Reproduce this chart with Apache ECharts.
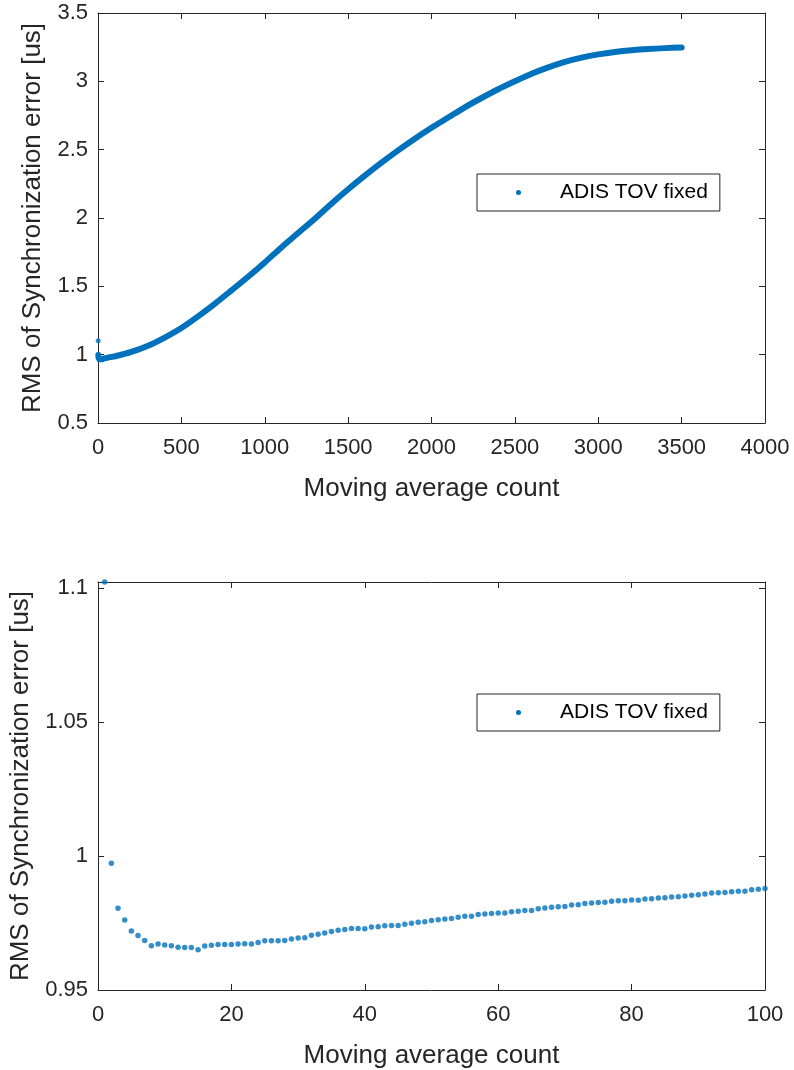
<!DOCTYPE html>
<html>
<head>
<meta charset="utf-8">
<script src="https://cdn.jsdelivr.net/npm/echarts@6/dist/echarts.min.js"></script>
<style>
html,body{margin:0;padding:0;background:#fff;}
#chart{width:794px;height:1070px;}
</style>
</head>
<body>
<div id="chart"></div>
<script>
// ---- Data ----
const seriesName = 'ADIS TOV fixed';
const xTitle = 'Moving average count';
const yTitle = 'RMS of Synchronization error [us]';

// Fine detail: moving average count 1..100 (bottom panel, also start of top panel)
const countFine = [1,2,3,4,5,6,7,8,9,10,11,12,13,14,15,16,17,18,19,20,21,22,23,24,25,26,27,28,29,30,31,32,33,34,35,36,37,38,39,40,41,42,43,44,45,46,47,48,49,50,51,52,53,54,55,56,57,58,59,60,61,62,63,64,65,66,67,68,69,70,71,72,73,74,75,76,77,78,79,80,81,82,83,84,85,86,87,88,89,90,91,92,93,94,95,96,97,98,99,100];
const rmsFine = [1.1023,0.9973,0.9805,0.9761,0.9720,0.9703,0.9685,0.9665,0.9672,0.9668,
0.9665,0.9660,0.9659,0.9659,0.9650,0.9664,0.9667,0.9670,0.9670,0.9670,
0.9672,0.9673,0.9672,0.9677,0.9684,0.9684,0.9684,0.9685,0.9690,0.9694,
0.9695,0.9704,0.9708,0.9713,0.9718,0.9723,0.9726,0.9730,0.9730,0.9729,
0.9735,0.9736,0.9740,0.9741,0.9741,0.9745,0.9749,0.9753,0.9755,0.9759,
0.9762,0.9765,0.9767,0.9772,0.9775,0.9775,0.9782,0.9784,0.9786,0.9787,
0.9787,0.9792,0.9794,0.9797,0.9797,0.9803,0.9806,0.9809,0.9811,0.9812,
0.9817,0.9818,0.9823,0.9825,0.9827,0.9828,0.9831,0.9833,0.9833,0.9836,
0.9835,0.9840,0.9841,0.9843,0.9844,0.9847,0.9848,0.9851,0.9854,0.9856,
0.9858,0.9862,0.9863,0.9864,0.9867,0.9869,0.9869,0.9874,0.9876,0.9879];

// Coarse: moving average count 150..3500 (top panel)
const countCoarse = [150,200,300,400,500,600,700,800,900,1000,1100,1200,1300,1400,1500,1600,1700,1800,1900,2000,2100,2200,2300,2400,2500,2600,2700,2800,2900,3000,3100,3200,3300,3400,3500];
const rmsCoarse = [1.003,1.020,1.065,1.125,1.195,1.280,1.372,1.470,1.570,1.675,1.785,1.890,1.995,2.105,2.210,2.310,2.405,2.495,2.580,2.660,2.735,2.810,2.878,2.942,3.000,3.055,3.102,3.142,3.173,3.197,3.215,3.228,3.237,3.243,3.247];

// Axis ticks
const topXTicks = {min:0, max:4000, interval:500};
const topYTicks = {min:0.5, max:3.5, interval:0.5};
const botXTicks = {min:0, max:100, interval:20};
const botYTicks = {min:0.95, max:1.1023, interval:0.05};

// ---- Build ----
const BLUE = '#0072BD';
const AX = '#262626';
const FONT = '"Liberation Sans", Arial, Helvetica, sans-serif';

const finePts = countFine.map((c,i)=>[c, rmsFine[i]]);
const bandPts = finePts.slice(1).concat(countCoarse.map((c,i)=>[c, rmsCoarse[i]]));

function tickFmt(t){
  return function(v){ const k=(v - t.min)/t.interval; return Math.abs(k-Math.round(k))<1e-6 ? String(+v.toFixed(4)) : ''; };
}
function mainX(grid, t){
  return {type:'value', gridIndex:grid, min:t.min, max:t.max, interval:t.interval, position:'bottom',
    name:xTitle, nameLocation:'middle', nameGap:53,
    nameTextStyle:{fontFamily:FONT, fontSize:26, color:AX},
    axisLine:{show:true, onZero:false, lineStyle:{color:AX, width:1}},
    axisTick:{show:true, inside:true, length:6, lineStyle:{color:AX}},
    axisLabel:{fontFamily:FONT, fontSize:22, color:AX, margin:14, formatter:tickFmt(t)},
    splitLine:{show:false}};
}
function mirrorX(grid, t){
  return {type:'value', gridIndex:grid, min:t.min, max:t.max, interval:t.interval, position:'top',
    axisLine:{show:true, onZero:false, lineStyle:{color:AX, width:1}},
    axisTick:{show:true, inside:true, length:6, lineStyle:{color:AX}},
    axisLabel:{show:false}, splitLine:{show:false}};
}
function mainY(grid, t){
  return {type:'value', gridIndex:grid, min:t.min, max:t.max, interval:t.interval, position:'left',
    name:yTitle, nameLocation:'middle', nameGap:52,
    nameTextStyle:{fontFamily:FONT, fontSize:26, color:AX},
    axisLine:{show:true, onZero:false, lineStyle:{color:AX, width:1}},
    axisTick:{show:true, inside:true, length:6, lineStyle:{color:AX}},
    axisLabel:{fontFamily:FONT, fontSize:22, color:AX, margin:10, formatter:tickFmt(t)},
    splitLine:{show:false}};
}
function mirrorY(grid, t){
  return {type:'value', gridIndex:grid, min:t.min, max:t.max, interval:t.interval, position:'right',
    axisLine:{show:true, onZero:false, lineStyle:{color:AX, width:1}},
    axisTick:{show:true, inside:true, length:6, lineStyle:{color:AX}},
    axisLabel:{show:false}, splitLine:{show:false}};
}
function legend(top){
  return {show:true, data:[{name:seriesName, icon:'circle'}], left:477, top:top,
    orient:'horizontal', itemWidth:5, itemHeight:5,
    padding:[8,12,8,39], borderColor:AX, borderWidth:1, backgroundColor:'#fff',
    textStyle:{fontFamily:FONT, fontSize:21, color:'#000', padding:[0,0,0,34]}};
}

const option = {
  animation:false,
  backgroundColor:'#fff',
  grid:[
    {left:98, right:29, top:13, height:410},
    {left:98, right:29, top:582, height:408}
  ],
  xAxis:[mainX(0, topXTicks), mirrorX(0, topXTicks), mainX(1, botXTicks), mirrorX(1, botXTicks)],
  yAxis:[mainY(0, topYTicks), mirrorY(0, topYTicks), mainY(1, botYTicks), mirrorY(1, botYTicks)],
  legend:[legend(174), legend(694)],
  series:[
    {name:seriesName, type:'line', xAxisIndex:0, yAxisIndex:0, data:bandPts,
      showSymbol:false, symbol:'circle', smooth:0.3, itemStyle:{color:BLUE},
      lineStyle:{color:BLUE, width:6, cap:'round', join:'round'}},
    {name:seriesName, type:'scatter', xAxisIndex:0, yAxisIndex:0, data:finePts.slice(0,1),
      symbol:'circle', symbolSize:5, itemStyle:{color:BLUE}},
    {name:seriesName, type:'scatter', xAxisIndex:2, yAxisIndex:2, data:finePts,
      symbol:'circle', symbolSize:5.5, itemStyle:{color:BLUE}}
  ]
};

const chart = echarts.init(document.getElementById('chart'), null, {renderer:'canvas'});
chart.setOption(option);
</script>
</body>
</html>
